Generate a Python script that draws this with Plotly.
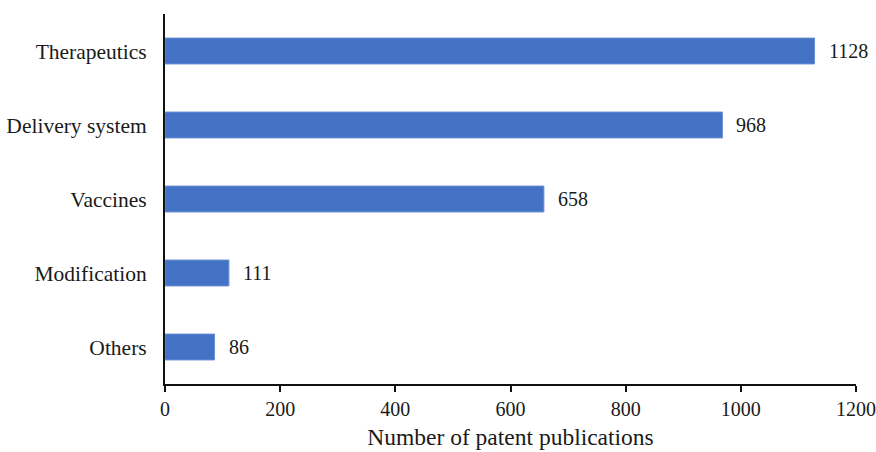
import plotly.graph_objects as go

categories = ["Therapeutics", "Delivery system", "Vaccines", "Modification", "Others"]
counts = [1128, 968, 658, 111, 86]
x_ticks = [0, 200, 400, 600, 800, 1000, 1200]

FONT = "Liberation Serif"
TXT = "#1a1a1a"

fig = go.Figure(
    go.Bar(
        x=counts,
        y=categories,
        orientation="h",
        marker=dict(color="#4472C4", line=dict(color="#6a8fd3", width=1)),
        width=0.35,
        hoverinfo="skip",
    )
)

# value labels to the right of each bar
for cat, val in zip(categories, counts):
    fig.add_annotation(
        x=val, y=cat, text=str(val), showarrow=False,
        xanchor="left", yanchor="middle", xshift=12,
        font=dict(family=FONT, size=20, color=TXT),
    )

fig.update_layout(
    width=876, height=452,
    margin=dict(l=165, r=20, t=14, b=68, autoexpand=False),
    paper_bgcolor="white", plot_bgcolor="white",
    showlegend=False,
    font=dict(family=FONT, size=20, color=TXT),
)

fig.update_xaxes(
    range=[0, 1200], tickvals=x_ticks, ticktext=[str(v) for v in x_ticks],
    showgrid=False, zeroline=False, automargin=False,
    showline=True, linecolor="#111111", linewidth=2,
    ticks="outside", ticklen=6, tickwidth=2, tickcolor="#111111",
    tickfont=dict(family=FONT, size=20, color=TXT),
    title=dict(text="Number of patent publications", standoff=10,
               font=dict(family=FONT, size=23.5, color=TXT)),
)

fig.update_yaxes(
    categoryorder="array", categoryarray=categories[::-1],
    range=[-0.5, 4.5], automargin=False,
    showgrid=False, zeroline=False,
    showline=True, linecolor="#111111", linewidth=2,
    ticks="", ticklabelstandoff=12,
    tickfont=dict(family=FONT, size=21.5, color=TXT),
)

fig.write_html("out.html")
